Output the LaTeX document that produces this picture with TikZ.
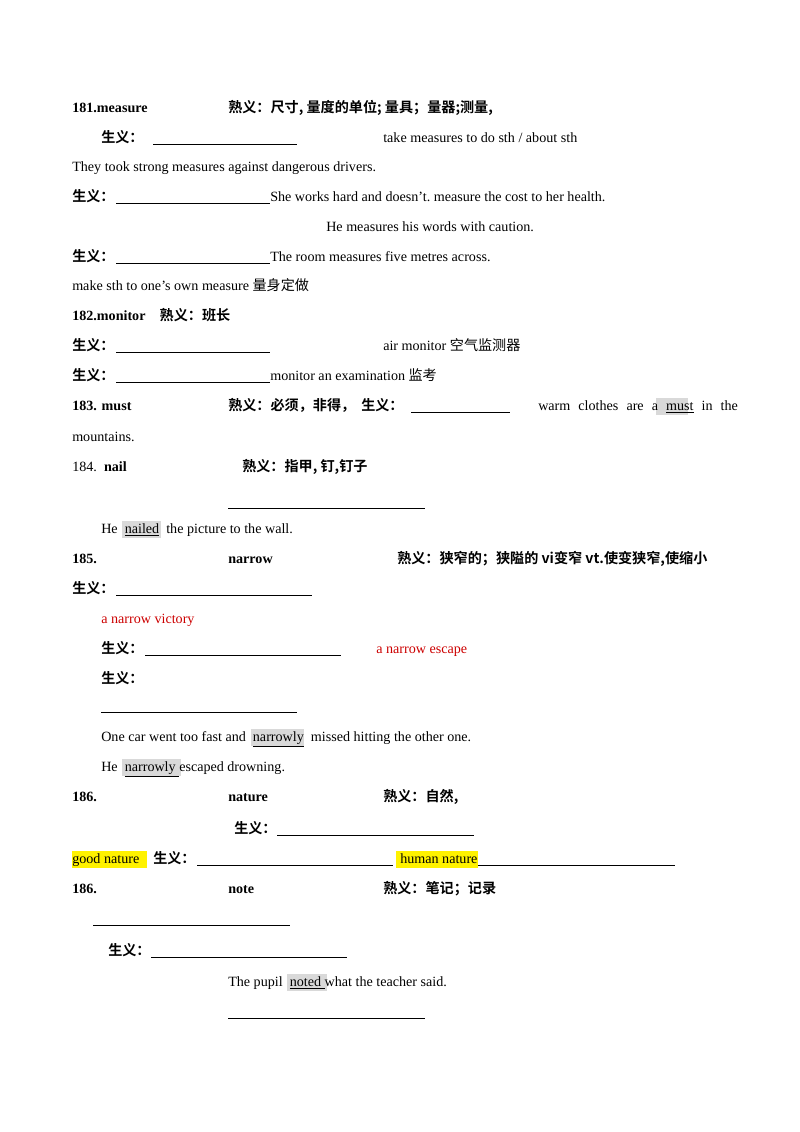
\documentclass[tikz,border=0pt]{standalone}
\usepackage{fontspec}
\setmainfont{Liberation Serif}
\newfontfamily\cjk{Noto Sans CJK SC}[BoldFont={Noto Sans CJK SC Bold}]
\newcommand{\zh}[1]{{\cjk #1}}
\newcommand{\zhb}[1]{{\cjk\bfseries #1}}
\begin{document}
\begin{tikzpicture}[x = 0.744pt, y = -0.744pt]
\tikzstyle{Txt}=[anchor = base west, inner sep = 0pt, font = \fontsize{10.5}{12}\selectfont]
\tikzstyle{Red}=[Txt, text = red!80!black]
\tikzstyle{Blank}=[line width = 0.6pt]
\tikzstyle{Mark}=[fill = black!15, draw = none]
\tikzstyle{Hi}=[fill = yellow, draw = none]
\useasboundingbox (0,0) rectangle (800,1132);
% highlights
\fill[Mark] (656,398) rectangle (688,415);
\fill[Mark] (122,521) rectangle (161,538);
\fill[Mark] (251,729) rectangle (304,746);
\fill[Mark] (122,759) rectangle (181,776);
\fill[Mark] (287,974) rectangle (327,991);
\fill[Hi] (72,851) rectangle (147,868);
\fill[Hi] (396,851) rectangle (478,868);
% 181
\node[Txt] (m1) at (72,112) {\textbf{181.measure}};
\node[Txt] (m2) at (228,112) {\zhb{熟义：尺寸, 量度的单位; 量具；量器;测量,}};
\node[Txt] (m3) at (101,142) {\zhb{生义：}};
\node[Txt] (m4) at (383,142) {take measures to do sth / about sth};
\node[Txt] (m5) at (72,171) {They took strong measures against dangerous drivers.};
\node[Txt] (m6) at (72,201) {\zhb{生义：}};
\node[Txt] (m7) at (270,201) {She works hard and doesn't.\ measure the cost to her health.};
\node[Txt] (m8) at (326,231) {He measures his words with caution.};
\node[Txt] (m9) at (72,261) {\zhb{生义：}};
\node[Txt] (m10) at (270,261) {The room measures five metres across.};
\node[Txt] (m11) at (72,290) {make sth to one's own measure \zh{量身定做}};
% 182
\node[Txt] (o1) at (72,320) {\textbf{182.monitor}\quad\zhb{熟义：班长}};
\node[Txt] (o2) at (72,350) {\zhb{生义：}};
\node[Txt] (o3) at (383,350) {air monitor \zh{空气监测器}};
\node[Txt] (o4) at (72,380) {\zhb{生义：}};
\node[Txt] (o5) at (270,380) {monitor an examination \zh{监考}};
% 183
\node[Txt] (u1) at (72,410) {\textbf{183. must}};
\node[Txt] (u2) at (228,410) {\zhb{熟义：必须，非得，}};
\node[Txt] (u3) at (361,410) {\zhb{生义：}};
\node[Txt] (u4) at (538,410) {warm\hspace{6pt}clothes\hspace{6pt}are\hspace{6pt}a\hspace{6pt}\underline{must}\hspace{6pt}in\hspace{6pt}the};
\node[Txt] (u5) at (72,441) {mountains.};
% 184
\node[Txt] (n1) at (72,471) {184.\ \ \textbf{nail}};
\node[Txt] (n2) at (242,471) {\zhb{熟义：指甲, 钉,钉子}};
\node[Txt] (n3) at (101,533) {He\ \ \underline{nailed}\ \ the picture to the wall.};
% 185
\node[Txt] (r1) at (72,563) {\textbf{185.}};
\node[Txt] (r2) at (228,563) {\textbf{narrow}};
\node[Txt] (r3) at (397,563) {\zhb{熟义：狭窄的；狭隘的 vi变窄 vt.使变狭窄,使缩小}};
\node[Txt] (r4) at (72,593) {\zhb{生义：}};
\node[Red] (r5) at (101,623) {a narrow victory};
\node[Txt] (r6) at (101,653) {\zhb{生义：}};
\node[Red] (r7) at (376,653) {a narrow escape};
\node[Txt] (r8) at (101,683) {\zhb{生义：}};
\node[Txt] (r9) at (101,741) {One car went too fast and\ \ \underline{narrowly}\ \ missed hitting the other one.};
\node[Txt] (r10) at (101,771) {He\ \ \underline{narrowly\ }escaped drowning.};
% 186 nature
\node[Txt] (t1) at (72,801) {\textbf{186.}};
\node[Txt] (t2) at (228,801) {\textbf{nature}};
\node[Txt] (t3) at (383,801) {\zhb{熟义：自然,}};
\node[Txt] (t4) at (234,833) {\zhb{生义：}};
\node[Txt] (t5) at (72,863) {good nature};
\node[Txt] (t6) at (153,863) {\zhb{生义：}};
\node[Txt] (t7) at (400,863) {human nature};
% 186 note
\node[Txt] (e1) at (72,893) {\textbf{186.}};
\node[Txt] (e2) at (228,893) {\textbf{note}};
\node[Txt] (e3) at (383,893) {\zhb{熟义：笔记；记录}};
\node[Txt] (e4) at (108,955) {\zhb{生义：}};
\node[Txt] (e5) at (228,986) {The pupil\ \ \underline{noted\ }what the teacher said.};
% blanks
\foreach \xa/\xb/\yy in {153/297/144, 116/270/203, 116/270/263, 116/270/352, 116/270/382,
  411/510/412, 228/425/508, 116/312/595, 145/341/655, 101/297/712, 277/474/835,
  197/393/865, 478/675/865, 93/290/925, 151/347/957, 228/425/1018}
  \draw[Blank] (\xa,\yy) -- (\xb,\yy);
\end{tikzpicture}
\end{document}
